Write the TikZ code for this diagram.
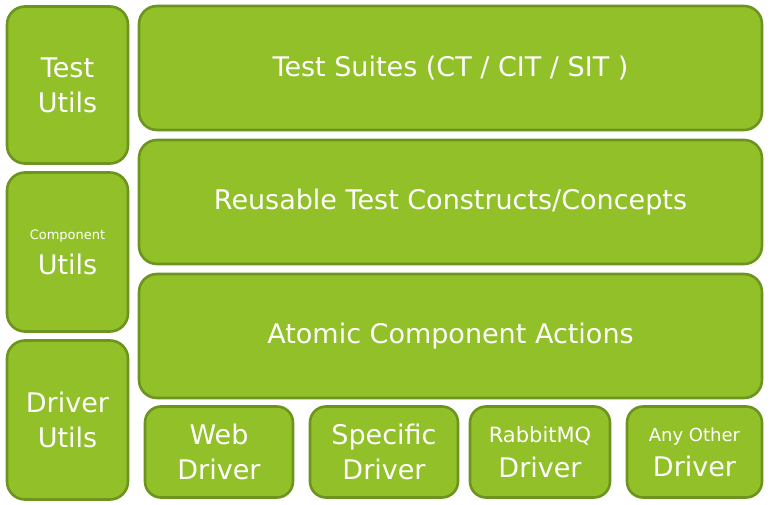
\documentclass[tikz,border=0pt]{standalone}
\usepackage{fontspec}
\setmainfont{DejaVu Sans}
\usepackage{tikz}
\usetikzlibrary{positioning}
\definecolor{mygreen}{RGB}{145,192,40}
\definecolor{mydkgreen}{RGB}{108,148,30}
\tikzset{
  block/.style={rectangle, draw=mydkgreen, fill=mygreen, text=white,
    align=center, rounded corners=18pt, line width=2.6pt,
    font=\fontsize{27}{35}\selectfont},
  sideblock/.style={block, minimum width=121pt, minimum height=157pt},
  layer/.style={block, minimum width=623pt, minimum height=124pt},
  drvblock/.style={block, minimum height=91pt, rounded corners=16pt}
}
\begin{document}
\begin{tikzpicture}[x=1pt, y=-1pt]
  \useasboundingbox (0,0) rectangle (772,505);
  % utility column
  \node[sideblock] (testutil) at (67.5,85) {Test\\Utils};
  \node[sideblock, minimum height=159pt] (computil) at (67.5,252)
    {{\fontsize{13}{22}\selectfont Component}\\Utils};
  \node[sideblock, minimum height=159pt] (drvutil) at (67.5,420) {Driver\\Utils};
  % layers
  \node[layer] (suites) at (450.5,68) {Test Suites (CT / CIT / SIT )};
  \node[layer] (reuse)  at (450.5,202) {Reusable Test Constructs/Concepts};
  \node[layer] (atomic) at (450.5,336) {Atomic Component Actions};
  % drivers
  \node[drvblock, minimum width=148pt] (web)    at (219,452) {Web\\Driver};
  \node[drvblock, minimum width=148pt] (spec)   at (384,452) {Specific\\Driver};
  \node[drvblock, minimum width=140pt] (rabbit) at (540,452)
    {{\fontsize{21}{28}\selectfont RabbitMQ}\\Driver};
  \node[drvblock, minimum width=135pt] (other)  at (694.5,452)
    {{\fontsize{18}{24}\selectfont Any Other}\\Driver};
\end{tikzpicture}
\end{document}
